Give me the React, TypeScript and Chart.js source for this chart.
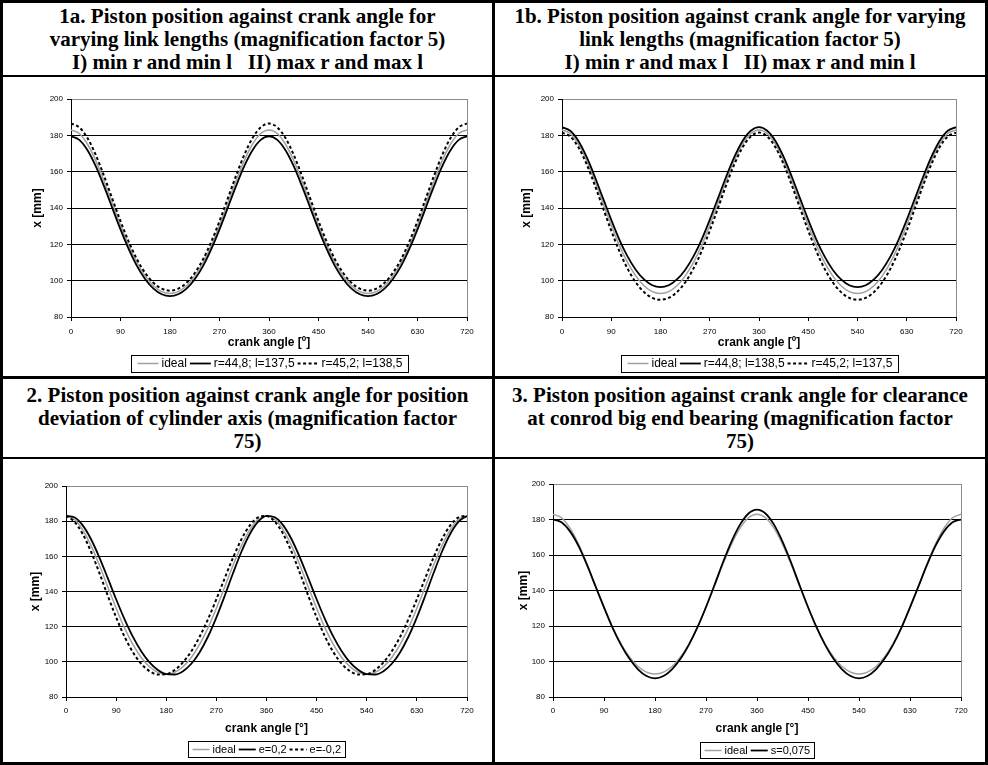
import React, { useEffect, useRef } from "react";
import { Chart, registerables } from "chart.js";

Chart.register(...registerables);

// ---------- data ----------
const ANGLES = [0, 15, 30, 45, 60, 75, 90, 105, 120, 135, 150, 165, 180, 195, 210, 225, 240, 255, 270, 285, 300, 315, 330, 345, 360, 375, 390, 405, 420, 435, 450, 465, 480, 495, 510, 525, 540, 555, 570, 585, 600, 615, 630, 645, 660, 675, 690, 705, 720];
const X_TICKS = [0, 90, 180, 270, 360, 450, 540, 630, 720];
const Y_TICKS = [80, 100, 120, 140, 160, 180, 200];

const IDEAL = [183.0, 181.0, 175.1, 166.1, 154.9, 142.6, 130.5, 119.3, 109.9, 102.5, 97.2, 94.0, 93.0, 94.0, 97.2, 102.5, 109.9, 119.3, 130.5, 142.6, 154.9, 166.1, 175.1, 181.0, 183.0, 181.0, 175.1, 166.1, 154.9, 142.6, 130.5, 119.3, 109.9, 102.5, 97.2, 94.0, 93.0, 94.0, 97.2, 102.5, 109.9, 119.3, 130.5, 142.6, 154.9, 166.1, 175.1, 181.0, 183.0];

// chart 1a
const R448_L1375 = [179.5, 177.5, 171.8, 163.0, 152.0, 140.1, 128.2, 117.3, 108.0, 100.8, 95.6, 92.5, 91.5, 92.5, 95.6, 100.8, 108.0, 117.3, 128.2, 140.1, 152.0, 163.0, 171.8, 177.5, 179.5, 177.5, 171.8, 163.0, 152.0, 140.1, 128.2, 117.3, 108.0, 100.8, 95.6, 92.5, 91.5, 92.5, 95.6, 100.8, 108.0, 117.3, 128.2, 140.1, 152.0, 163.0, 171.8, 177.5, 179.5];
const R452_L1385 = [186.5, 184.4, 178.5, 169.2, 157.7, 145.2, 132.8, 121.4, 111.7, 104.2, 98.8, 95.6, 94.5, 95.6, 98.8, 104.2, 111.7, 121.4, 132.8, 145.2, 157.7, 169.2, 178.5, 184.4, 186.5, 184.4, 178.5, 169.2, 157.7, 145.2, 132.8, 121.4, 111.7, 104.2, 98.8, 95.6, 94.5, 95.6, 98.8, 104.2, 111.7, 121.4, 132.8, 145.2, 157.7, 169.2, 178.5, 184.4, 186.5];

// chart 1b
const R448_L1385 = [184.5, 182.5, 176.9, 168.1, 157.2, 145.3, 133.5, 122.5, 113.2, 105.9, 100.7, 97.5, 96.5, 97.5, 100.7, 105.9, 113.2, 122.5, 133.5, 145.3, 157.2, 168.1, 176.9, 182.5, 184.5, 182.5, 176.9, 168.1, 157.2, 145.3, 133.5, 122.5, 113.2, 105.9, 100.7, 97.5, 96.5, 97.5, 100.7, 105.9, 113.2, 122.5, 133.5, 145.3, 157.2, 168.1, 176.9, 182.5, 184.5];
const R452_L1375 = [181.5, 179.4, 173.4, 164.1, 152.5, 139.9, 127.5, 116.1, 106.5, 99.0, 93.7, 90.5, 89.5, 90.5, 93.7, 99.0, 106.5, 116.1, 127.5, 139.9, 152.5, 164.1, 173.4, 179.4, 181.5, 179.4, 173.4, 164.1, 152.5, 139.9, 127.5, 116.1, 106.5, 99.0, 93.7, 90.5, 89.5, 90.5, 93.7, 99.0, 106.5, 116.1, 127.5, 139.9, 152.5, 164.1, 173.4, 179.4, 181.5];

// chart 2
const E_POS = [183.0, 182.2, 177.6, 169.7, 159.3, 147.6, 135.6, 124.3, 114.3, 106.0, 99.7, 95.3, 93.0, 92.8, 94.7, 98.9, 105.5, 114.4, 125.3, 137.6, 150.5, 162.6, 172.7, 179.7, 183.0, 182.2, 177.6, 169.7, 159.3, 147.6, 135.6, 124.3, 114.3, 106.0, 99.7, 95.3, 93.0, 92.8, 94.7, 98.9, 105.5, 114.4, 125.3, 137.6, 150.5, 162.6, 172.7, 179.7, 183.0];
const E_NEG = [183.0, 179.7, 172.7, 162.6, 150.5, 137.6, 125.3, 114.4, 105.5, 98.9, 94.7, 92.8, 93.0, 95.3, 99.7, 106.0, 114.3, 124.3, 135.6, 147.6, 159.3, 169.7, 177.6, 182.2, 183.0, 179.7, 172.7, 162.6, 150.5, 137.6, 125.3, 114.4, 105.5, 98.9, 94.7, 92.8, 93.0, 95.3, 99.7, 106.0, 114.3, 124.3, 135.6, 147.6, 159.3, 169.7, 177.6, 182.2, 183.0];

// chart 3
const S_0075 = [180.0, 178.4, 173.3, 165.1, 154.4, 142.4, 130.5, 119.1, 109.4, 101.5, 95.6, 91.8, 90.5, 91.8, 95.6, 101.5, 109.5, 119.3, 130.7, 143.1, 155.9, 167.6, 177.1, 183.4, 185.6, 183.4, 177.1, 167.6, 155.9, 143.1, 130.7, 119.3, 109.5, 101.5, 95.6, 91.8, 90.5, 91.8, 95.6, 101.5, 109.4, 119.1, 130.5, 142.4, 154.4, 165.1, 173.3, 178.4, 180.0];

const TITLE_1A = ["1a. Piston position against crank angle for", "varying link lengths (magnification factor 5)", "I) min r and min l   II) max r and max l"];
const TITLE_1B = ["1b. Piston position against crank angle for varying", "link lengths (magnification factor 5)", "I) min r and max l   II) max r and min l"];
const TITLE_2 = ["2. Piston position against crank angle for position", "deviation of cylinder axis (magnification factor", "75)"];
const TITLE_3 = ["3. Piston position against crank angle for clearance", "at conrod big end bearing (magnification factor", "75)"];

// ---------- styling ----------
const SANS = "'Liberation Sans', Arial, Helvetica, sans-serif";
const SERIF = "'Liberation Serif', 'Times New Roman', serif";
const GREY = "#a0a0a0";
const BLACK = "#000000";
const DOT = [3, 2.5];

Chart.defaults.font.family = SANS;

type SeriesDef = { label: string; data: number[]; color: string; width: number; dash: number[] };
type LegendStyle = { font: number; sample: number; gapText: number; gapItem: number; padX: number; h: number };
type PanelSpec = {
  box: { x: number; y: number; w: number; h: number };
  plot: { l: number; r: number; t: number; b: number };
  yTitleX: number;
  xTitle: string;
  xTickPad: number;
  xTitleY: number;
  legendY: number;
  legend: LegendStyle;
  series: SeriesDef[];
};

const framePlugin = {
  id: "plotFrame",
  beforeDatasetsDraw(chart: any) {
    const { ctx, chartArea: a } = chart;
    ctx.save();
    ctx.strokeStyle = "#8c8c8c";
    ctx.lineWidth = 1;
    ctx.beginPath();
    ctx.moveTo(Math.round(a.right) + 0.5, a.top);
    ctx.lineTo(Math.round(a.right) + 0.5, a.bottom);
    ctx.stroke();
    ctx.restore();
  },
};

const legendPlugin = {
  id: "boxedLegend",
  afterDraw(chart: any, _args: any, opts: any) {
    const { ctx, chartArea } = chart;
    const datasets = chart.data.datasets;
    const st: LegendStyle = opts.style;
    ctx.save();
    ctx.font = `${st.font}px ${SANS}`;
    const widths = datasets.map((d: any) => ctx.measureText(d.label).width);
    let total = st.padX * 2;
    widths.forEach((w: number, i: number) => {
      total += st.sample + st.gapText + w + (i > 0 ? st.gapItem : 0);
    });
    const cx = (chartArea.left + chartArea.right) / 2;
    const cy = opts.y;
    const left = Math.round(cx - total / 2) + 0.5;
    const top = Math.round(cy - st.h / 2) + 0.5;
    ctx.strokeStyle = "#000";
    ctx.lineWidth = 1;
    ctx.setLineDash([]);
    ctx.strokeRect(left, top, Math.round(total), st.h);
    let cur = left + st.padX;
    datasets.forEach((d: any, i: number) => {
      if (i > 0) cur += st.gapItem;
      ctx.beginPath();
      ctx.strokeStyle = d.borderColor;
      ctx.lineWidth = d.borderWidth;
      ctx.setLineDash(d.borderDash || []);
      ctx.moveTo(cur, Math.round(cy) + 0.5);
      ctx.lineTo(cur + st.sample, Math.round(cy) + 0.5);
      ctx.stroke();
      ctx.setLineDash([]);
      cur += st.sample + st.gapText;
      ctx.fillStyle = "#000";
      ctx.textBaseline = "middle";
      ctx.textAlign = "left";
      ctx.fillText(d.label, cur, cy + 1);
      cur += widths[i];
    });
    ctx.restore();
  },
};

function buildConfig(spec: PanelSpec): any {
  const { box, plot } = spec;
  const cl = plot.l - box.x;
  const cr = plot.r - box.x;
  const ct = plot.t - box.y;
  const cb = plot.b - box.y;
  const titleHalf = 7.2;
  const padLeft = spec.yTitleX - box.x - titleHalf;
  const yWidth = cl - padLeft;
  const xTitleCenter = spec.xTitleY - box.y;
  const xHeight = xTitleCenter + titleHalf - cb;
  const padBottom = box.h - cb - xHeight;
  const padRight = box.w - cr;
  const n = spec.series.length;

  return {
    type: "line",
    data: {
      datasets: spec.series.map((s, i) => ({
        label: s.label,
        data: ANGLES.map((a, k) => ({ x: a, y: s.data[k] })),
        borderColor: s.color,
        borderWidth: s.width,
        borderDash: s.dash,
        borderCapStyle: "butt",
        pointRadius: 0,
        fill: false,
        cubicInterpolationMode: "monotone",
        order: n - i,
      })),
    },
    options: {
      responsive: false,
      animation: false,
      devicePixelRatio: 1,
      events: [],
      layout: { padding: { left: padLeft, right: padRight, top: ct, bottom: padBottom } },
      plugins: {
        legend: { display: false },
        tooltip: { enabled: false },
        boxedLegend: { y: spec.legendY - box.y, style: spec.legend },
      },
      scales: {
        x: {
          type: "linear",
          min: 0,
          max: 720,
          afterBuildTicks: (s: any) => {
            s.ticks = X_TICKS.map((v) => ({ value: v }));
          },
          afterFit: (s: any) => {
            s.height = xHeight;
          },
          grid: { display: true, drawOnChartArea: false, drawTicks: true, tickLength: 4, color: "#000", lineWidth: 1 },
          border: { display: true, color: "#000", width: 1 },
          ticks: { font: { size: 8, family: SANS }, color: "#000", padding: spec.xTickPad, maxRotation: 0, autoSkip: false },
          title: { display: true, text: spec.xTitle, font: { size: 12, weight: "bold", family: SANS }, color: "#000", padding: 0 },
        },
        y: {
          type: "linear",
          min: 80,
          max: 200,
          afterBuildTicks: (s: any) => {
            s.ticks = Y_TICKS.map((v) => ({ value: v }));
          },
          afterFit: (s: any) => {
            s.width = yWidth;
          },
          grid: {
            color: (c: any) => (c.tick && c.tick.value === 200 ? "#8c8c8c" : "#000"),
            tickColor: "#000",
            tickLength: 4,
            lineWidth: 1,
          },
          border: { display: true, color: "#000", width: 1 },
          ticks: { font: { size: 8, family: SANS }, color: "#000", padding: 4 },
          title: { display: true, text: "x [mm]", font: { size: 12, weight: "bold", family: SANS }, color: "#000", padding: 0 },
        },
      },
    },
    plugins: [framePlugin, legendPlugin],
  };
}

const LEGEND_TOP: LegendStyle = { font: 12, sample: 21, gapText: 3, gapItem: 3, padX: 6, h: 17 };
const LEGEND_BOTTOM: LegendStyle = { font: 11, sample: 17, gapText: 3, gapItem: 3, padX: 4, h: 16 };

const PANELS: PanelSpec[] = [
  {
    box: { x: 3, y: 77, w: 489, h: 299 },
    plot: { l: 71, r: 467, t: 99, b: 317 },
    yTitleX: 38,
    xTitle: "crank angle [º]",
    xTickPad: 6,
    xTitleY: 343,
    legendY: 363,
    legend: LEGEND_TOP,
    series: [
      { label: "ideal", data: IDEAL, color: GREY, width: 1.5, dash: [] },
      { label: "r=44,8; l=137,5", data: R448_L1375, color: BLACK, width: 1.8, dash: [] },
      { label: "r=45,2; l=138,5", data: R452_L1385, color: BLACK, width: 2, dash: DOT },
    ],
  },
  {
    box: { x: 495, y: 77, w: 490, h: 299 },
    plot: { l: 562, r: 956, t: 99, b: 317 },
    yTitleX: 527,
    xTitle: "crank angle [º]",
    xTickPad: 6,
    xTitleY: 343,
    legendY: 363,
    legend: LEGEND_TOP,
    series: [
      { label: "ideal", data: IDEAL, color: GREY, width: 1.5, dash: [] },
      { label: "r=44,8; l=138,5", data: R448_L1385, color: BLACK, width: 1.8, dash: [] },
      { label: "r=45,2; l=137,5", data: R452_L1375, color: BLACK, width: 2, dash: DOT },
    ],
  },
  {
    box: { x: 3, y: 459, w: 489, h: 303 },
    plot: { l: 66, r: 467, t: 486, b: 697 },
    yTitleX: 36,
    xTitle: "crank angle [°]",
    xTickPad: 5,
    xTitleY: 729,
    legendY: 749,
    legend: LEGEND_BOTTOM,
    series: [
      { label: "ideal", data: IDEAL, color: GREY, width: 1.5, dash: [] },
      { label: "e=0,2", data: E_POS, color: BLACK, width: 1.8, dash: [] },
      { label: "e=-0,2", data: E_NEG, color: BLACK, width: 2, dash: DOT },
    ],
  },
  {
    box: { x: 495, y: 459, w: 490, h: 303 },
    plot: { l: 553, r: 961, t: 484, b: 697 },
    yTitleX: 524,
    xTitle: "crank angle [°]",
    xTickPad: 5,
    xTitleY: 729,
    legendY: 750,
    legend: LEGEND_BOTTOM,
    series: [
      { label: "ideal", data: IDEAL, color: GREY, width: 1.5, dash: [] },
      { label: "s=0,075", data: S_0075, color: BLACK, width: 1.8, dash: [] },
    ],
  },
];

function ChartPanel({ spec }: { spec: PanelSpec }) {
  const ref = useRef<HTMLCanvasElement | null>(null);
  useEffect(() => {
    if (!ref.current) return;
    const chart = new Chart(ref.current, buildConfig(spec));
    return () => chart.destroy();
  }, [spec]);
  return (
    <canvas
      ref={ref}
      width={spec.box.w}
      height={spec.box.h}
      style={{ position: "absolute", left: spec.box.x, top: spec.box.y, width: spec.box.w, height: spec.box.h }}
    />
  );
}

function Title({ lines, x, y, w, h }: { lines: string[]; x: number; y: number; w: number; h: number }) {
  return (
    <div
      style={{
        position: "absolute",
        left: x,
        top: y,
        width: w,
        height: h,
        display: "flex",
        flexDirection: "column",
        justifyContent: "center",
        alignItems: "center",
        fontFamily: SERIF,
        fontWeight: "bold",
        fontSize: 21,
        lineHeight: "23px",
        color: "#000",
        textAlign: "center",
      }}
    >
      {lines.map((l, i) => (
        <div key={i} style={{ whiteSpace: "pre" }}>
          {l}
        </div>
      ))}
    </div>
  );
}

const line = (left: number, top: number, width: number, height: number) => (
  <div style={{ position: "absolute", left, top, width, height, background: "#000" }} />
);

export default function App() {
  return (
    <div style={{ position: "absolute", left: 0, top: 0, width: 988, height: 765, background: "#fff", overflow: "hidden" }}>
      <Title lines={TITLE_1A} x={3} y={3} w={489} h={72} />
      <Title lines={TITLE_1B} x={495} y={3} w={490} h={72} />
      <Title lines={TITLE_2} x={3} y={379} w={489} h={78} />
      <Title lines={TITLE_3} x={495} y={379} w={490} h={78} />
      {PANELS.map((p, i) => (
        <ChartPanel key={i} spec={p} />
      ))}
      {line(0, 0, 988, 3)}
      {line(0, 762, 988, 3)}
      {line(0, 0, 3, 765)}
      {line(985, 0, 3, 765)}
      {line(492, 0, 3, 765)}
      {line(0, 376, 988, 3)}
      {line(0, 75, 988, 2)}
      {line(0, 457, 988, 2)}
    </div>
  );
}
